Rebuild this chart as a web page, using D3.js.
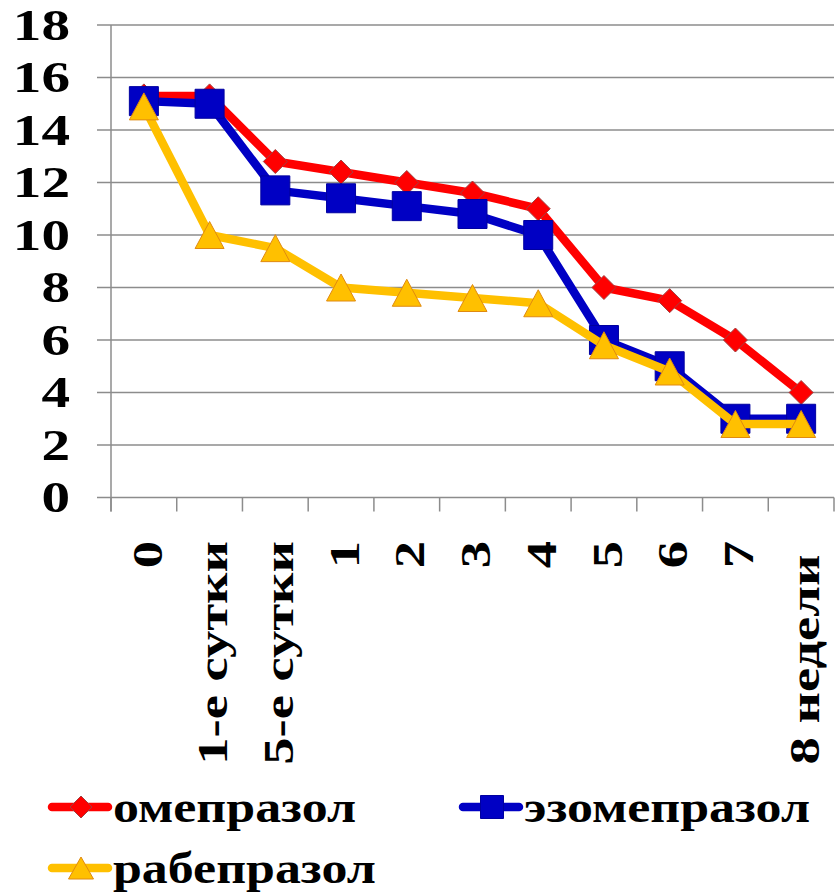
<!DOCTYPE html>
<html><head><meta charset="utf-8">
<script src="https://cdn.jsdelivr.net/npm/d3@7/dist/d3.min.js"></script>
<style>
body{margin:0;background:#fff;}
svg{display:block;}
text{white-space:pre;}
</style></head>
<body>
<svg id="c" width="836" height="894"></svg>
<script>
const categories = ["0","1-е сутки","5-е сутки","1","2","3","4","5","6","7","8 недели "];
const omeprazole  = [15.3, 15.3, 12.8, 12.4, 12.0, 11.6, 11.0, 8.0, 7.5, 6.0, 4.0];
const esomeprazole= [15.1, 15.0, 11.7, 11.4, 11.1, 10.8, 10.0, 6.0, 5.0, 3.0, 3.0];
const rabeprazole = [14.9, 10.0, 9.5, 8.0, 7.8, 7.6, 7.4, 5.8, 4.8, 2.8, 2.8];
const yTicks = [0,2,4,6,8,10,12,14,16,18];
const seriesNames = ["омепразол","эзомепразол","рабепразол"];

const svg = d3.select("#c");
const L = 111, R = 834, T = 25, B = 497.5;
const x = d3.scaleBand().domain(categories).range([L, R]);
const y = d3.scaleLinear().domain([0, 18]).range([B, T]);
const grid = "#8c8c8c";
const font = "'Liberation Serif','Times New Roman',serif";

// gridlines
svg.append("g").selectAll("line").data(yTicks).join("line")
  .attr("x1", L - 14).attr("x2", R)
  .attr("y1", d => y(d)).attr("y2", d => y(d))
  .attr("stroke", grid).attr("stroke-width", 1.5);

// y axis line
svg.append("line").attr("x1", L).attr("x2", L).attr("y1", T).attr("y2", B + 14)
  .attr("stroke", grid).attr("stroke-width", 1.5);

// x ticks at band boundaries
const bounds = categories.map(c => x(c)).concat([R]);
svg.append("g").selectAll("line").data(bounds).join("line")
  .attr("x1", d => d).attr("x2", d => d).attr("y1", B).attr("y2", B + 14)
  .attr("stroke", grid).attr("stroke-width", 1.5);

// y labels
svg.append("g").selectAll("text").data(yTicks).join("text")
  .attr("transform", d => `translate(70,${y(d)}) scale(1.3,1)`)
  .attr("text-anchor", "end").attr("dy", "0.34em")
  .attr("font-family", font).attr("font-weight", "bold").attr("font-size", 44)
  .attr("fill", "#000").text(d => d);

// x labels rotated
svg.append("g").selectAll("text").data(categories).join("text")
  .attr("transform", d => `translate(${x(d) + x.bandwidth()/2},541) rotate(-90) scale(1.3,1)`)
  .attr("text-anchor", "end").attr("dy", "0.42em")
  .attr("font-family", font).attr("font-weight", "bold").attr("font-size", 42)
  .attr("fill", "#000").text(d => d);

const cx = i => x(categories[i]) + x.bandwidth()/2;
const line = d3.line().x((d, i) => cx(i)).y(d => y(d));

function diamond(w, h){ return `M0,${-h/2}L${w/2},0L0,${h/2}L${-w/2},0Z`; }
function square(s){ return `M${-s/2},${-s/2}h${s}v${s}h${-s}Z`; }
function tri(w, h){ return `M0,${-h/2}L${w/2},${h/2}L${-w/2},${h/2}Z`; }

const series = [
  {name: seriesNames[0], values: omeprazole, color: "#ff0000", mstroke: "#a04040", path: diamond(24, 24), lpath: diamond(22, 22)},
  {name: seriesNames[1], values: esomeprazole, color: "#0000c4", mstroke: "#0000a0", path: square(29), lpath: square(23)},
  {name: seriesNames[2], values: rabeprazole, color: "#ffc000", mstroke: "#e08a10", path: tri(29, 27), lpath: tri(25, 22)}
];

series.forEach(s => {
  svg.append("path").datum(s.values).attr("d", line)
    .attr("fill", "none").attr("stroke", s.color).attr("stroke-width", 8.5)
    .attr("stroke-linejoin", "round");
  svg.append("g").selectAll("path").data(s.values).join("path")
    .attr("transform", (d, i) => `translate(${cx(i)},${y(d)})`)
    .attr("d", s.path).attr("fill", s.color)
    .attr("stroke", s.mstroke).attr("stroke-width", 1);
});

// legend
const legendPos = [{x: 52, y: 807}, {x: 463, y: 807}, {x: 52, y: 868}];
series.forEach((s, i) => {
  const p = legendPos[i];
  const g = svg.append("g").attr("transform", `translate(${p.x},${p.y})`);
  g.append("line").attr("x1", 0).attr("x2", 56).attr("y1", 0).attr("y2", 0)
    .attr("stroke", s.color).attr("stroke-width", 8.5).attr("stroke-linecap", "round");
  g.append("path").attr("transform", "translate(29,0)").attr("d", s.lpath)
    .attr("fill", s.color).attr("stroke", s.mstroke).attr("stroke-width", 1);
  g.append("text").attr("transform", "translate(61,15) scale(1.18,1)")
    .attr("font-family", font).attr("font-weight", "bold").attr("font-size", 44)
    .attr("fill", "#000").text(s.name);
});
</script>
</body></html>
